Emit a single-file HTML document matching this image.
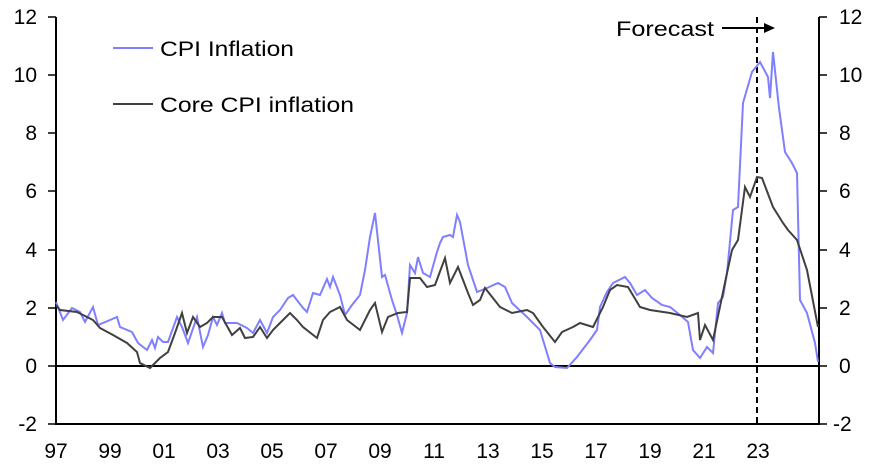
<!DOCTYPE html><html><head><style>body{margin:0;background:#fff}text{font-family:"Liberation Sans",Arial,sans-serif}</style></head><body>
<svg width="872" height="467" viewBox="0 0 872 467">
<g stroke="#000" stroke-width="2" fill="none">
<line x1="56" y1="17" x2="56" y2="425"/><line x1="819" y1="17" x2="819" y2="425"/>
<line x1="56" y1="366" x2="819" y2="366"/><line x1="56" y1="424" x2="819" y2="424"/>
</g>
<g stroke="#000" stroke-width="1.5">
<line x1="48" y1="17" x2="56" y2="17"/><line x1="48" y1="75" x2="56" y2="75"/><line x1="48" y1="133" x2="56" y2="133"/><line x1="48" y1="191" x2="56" y2="191"/><line x1="48" y1="250" x2="56" y2="250"/><line x1="48" y1="308" x2="56" y2="308"/><line x1="48" y1="366" x2="56" y2="366"/><line x1="48" y1="424" x2="56" y2="424"/>
<line x1="819" y1="17" x2="827" y2="17"/><line x1="819" y1="75" x2="827" y2="75"/><line x1="819" y1="133" x2="827" y2="133"/><line x1="819" y1="191" x2="827" y2="191"/><line x1="819" y1="250" x2="827" y2="250"/><line x1="819" y1="308" x2="827" y2="308"/><line x1="819" y1="366" x2="827" y2="366"/><line x1="819" y1="424" x2="827" y2="424"/>
</g>
<g font-size="21" text-anchor="end" fill="#000">
<text x="37" y="24">12</text><text x="37" y="82">10</text><text x="37" y="140">8</text><text x="37" y="198">6</text><text x="37" y="257">4</text><text x="37" y="315">2</text><text x="37" y="373">0</text><text x="37" y="431">-2</text>
</g>
<g font-size="21" fill="#000">
<text x="839" y="24">12</text><text x="839" y="82">10</text><text x="839" y="140">8</text><text x="839" y="198">6</text><text x="839" y="257">4</text><text x="839" y="315">2</text><text x="839" y="373">0</text><text x="833" y="431">-2</text>
</g>
<g font-size="21" text-anchor="middle" fill="#000">
<text x="56" y="458">97</text><text x="110" y="458">99</text><text x="164" y="458">01</text><text x="218" y="458">03</text><text x="272" y="458">05</text><text x="326" y="458">07</text><text x="380" y="458">09</text><text x="434" y="458">11</text><text x="488" y="458">13</text><text x="542" y="458">15</text><text x="596" y="458">17</text><text x="650" y="458">19</text><text x="704" y="458">21</text><text x="758" y="458">23</text>
</g>
<line x1="757" y1="17" x2="757" y2="424" stroke="#000" stroke-width="2" stroke-dasharray="6,4"/>
<text x="616" y="36" font-size="21" textLength="98" lengthAdjust="spacingAndGlyphs">Forecast</text>
<line x1="722" y1="28" x2="766" y2="28" stroke="#000" stroke-width="2"/><polygon points="764,23 775,28 764,33" fill="#000"/>
<line x1="113" y1="48" x2="153" y2="48" stroke="#7f7fff" stroke-width="2"/><text x="160" y="56" font-size="21" textLength="134" lengthAdjust="spacingAndGlyphs">CPI Inflation</text>
<line x1="113" y1="104" x2="153" y2="104" stroke="#404040" stroke-width="2"/><text x="160" y="112" font-size="21" textLength="194" lengthAdjust="spacingAndGlyphs">Core CPI inflation</text>
<polyline fill="none" stroke="#7f7fff" stroke-width="2" points="56,302 63,320 72,308 80,312 85,322 93,307 98,325 110,320 117,317 120,327 132,332 138,343 147,350 152,340 155,348 158,337 163,342 168,342 177,317 182,327 188,343 197,317 203,347 208,335 213,317 217,325 222,313 225,323 237,323 247,328 253,333 260,320 267,333 273,317 280,310 288,298 293,295 303,308 307,312 313,293 320,295 327,279 330,287 333,277 340,295 345,315 352,305 360,295 365,270 370,237 375,213 382,277 385,275 392,300 397,315 402,333 407,313 410,265 415,273 418,257 423,273 430,277 437,252 440,243 443,237 450,235 453,237 457,215 460,222 468,265 477,292 487,288 498,283 505,287 512,303 527,317 540,330 550,363 555,367 567,368 577,357 590,340 597,330 600,307 607,292 613,283 625,277 630,283 637,295 645,290 652,298 662,305 670,307 680,315 688,322 693,350 700,358 707,347 713,353 718,303 723,297 727,273 733,210 738,207 743,103 752,72 760,62 768,77 770,98 773,52 779,108 785,152 792,163 797,173 800,300 807,313 815,343 818,362"/>
<polyline fill="none" stroke="#404040" stroke-width="2" points="56,305 60,310 77,312 87,317 93,320 100,328 113,335 127,343 137,352 140,363 150,368 160,358 168,352 175,333 182,313 187,333 193,317 200,327 207,323 213,317 222,317 232,335 240,328 245,338 253,337 260,327 267,338 273,330 280,323 290,313 297,320 303,327 317,338 323,320 330,312 340,307 347,320 360,330 370,310 375,303 382,332 388,317 398,313 407,312 410,278 420,278 427,287 435,285 445,258 450,283 458,267 468,293 473,305 480,300 485,288 500,307 512,313 527,310 533,313 543,327 555,342 562,332 573,327 580,323 593,327 603,307 610,290 617,285 628,287 640,307 650,310 670,313 687,317 698,313 700,340 705,325 713,340 722,297 727,273 732,250 738,240 745,187 750,197 757,177 762,178 773,207 783,223 788,230 797,240 807,270 818,327"/>
</svg>
</body></html>
